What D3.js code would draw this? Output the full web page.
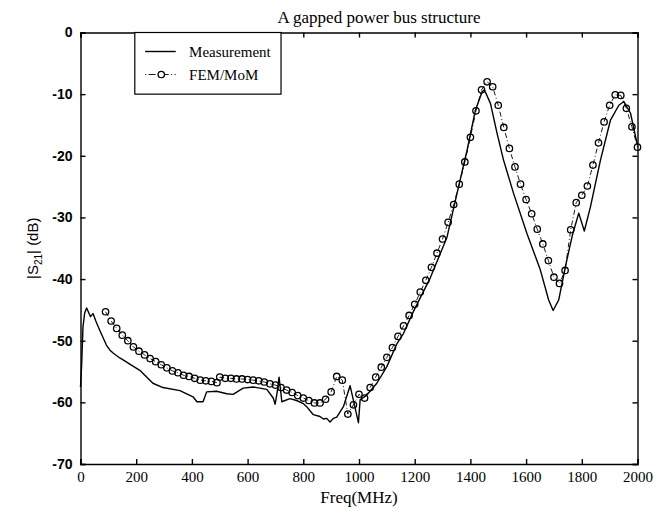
<!DOCTYPE html>
<html>
<head>
<meta charset="utf-8">
<script src="https://cdn.jsdelivr.net/npm/d3@7"></script>
<style>
  body { margin: 0; background: #fff; }
  svg { display: block; }
  .axis path, .axis line { stroke: #000; stroke-width: 1.4; }
  .axis--x text { font: 15px "Liberation Serif", serif; fill: #000; }
  .axis--y text { font: bold 14px "Liberation Sans Narrow", "Liberation Sans", sans-serif; fill: #000; }
</style>
</head>
<body>
<svg width="661" height="515"></svg>
<script>
// measured |S21| (solid line)
var measFreq = [0, 4, 9, 15, 22, 30, 36, 45, 55, 69, 93, 105, 117, 141, 153, 177, 213, 240, 260, 296,
  357, 404, 418, 440, 453, 489, 525, 548, 584, 620, 669, 692, 699, 706, 713, 723, 752, 776, 800, 812,
  836, 860, 872, 884, 896, 908, 920, 944, 968, 998, 1004, 1028, 1064, 1100, 1136, 1160, 1196, 1256, 1316, 1352,
  1388, 1418, 1442, 1450, 1472, 1496, 1519, 1555, 1603, 1651, 1681, 1697, 1717, 1741, 1765, 1789, 1809, 1831, 1867, 1903,
  1933, 1951, 1975, 1993, 2000];
var measDb = [-57.5, -54, -47.7, -45.5, -44.7, -45.5, -46.1, -45.6, -46.8, -48.3, -50.7, -51.5, -52.0, -52.8, -53.1, -53.8, -54.8, -56.0, -56.9, -57.6,
  -58.1, -59.1, -59.9, -59.9, -58.3, -58.2, -58.6, -58.7, -57.7, -57.5, -57.9, -59.3, -60.3, -58.4, -55.9, -59.9, -59.4, -59.7, -60.2, -60.7,
  -62.0, -62.3, -62.7, -62.6, -63.2, -62.6, -62.4, -60.7, -57.3, -63.3, -59.6, -58.8, -56.9, -54.2, -50.5, -48.8, -45.2, -39.8, -33.2, -26.1,
  -19.1, -12.6, -9.6, -9.3, -11.5, -16.4, -20.7, -26.1, -32.6, -38.5, -43.4, -45.1, -43.4, -38.0, -33.1, -29.3, -32.2, -28.3, -20.7, -14.2,
  -11.8, -11.2, -13.1, -16.9, -18.3];

// FEM/MoM simulation (circles)
var femFreq = [90, 110, 130, 150, 170, 190, 210, 230, 250, 270, 290, 310, 330, 350, 370, 390, 410, 430, 450, 470, 490,
  500, 520, 540, 560, 580, 600, 620, 640, 660, 680, 700, 720, 740, 760, 780, 800, 820, 840, 860, 880,
  900, 920, 940, 960, 980, 1000, 1020, 1040, 1060, 1080, 1100, 1120, 1140, 1160, 1180, 1200, 1220, 1240, 1260, 1280,
  1300, 1320, 1340, 1360, 1380, 1400, 1420, 1440, 1460, 1480, 1500, 1520, 1540, 1560, 1580, 1600, 1620, 1640, 1660, 1680,
  1700, 1720, 1740, 1760, 1780, 1800, 1820, 1840, 1860, 1880, 1900, 1920, 1940, 1960, 1980, 2000];
var femDb = [-45.3, -46.8, -48.0, -49.1, -50.0, -51.0, -51.7, -52.3, -52.9, -53.4, -53.9, -54.4, -54.9, -55.2, -55.6, -55.8, -56.1, -56.4, -56.5, -56.6, -56.8,
  -55.9, -56.1, -56.1, -56.2, -56.2, -56.3, -56.4, -56.5, -56.7, -57.0, -57.2, -57.6, -58.0, -58.4, -58.9, -59.3, -59.7, -60.1, -60.1, -59.5,
  -58.3, -55.8, -56.4, -61.9, -60.4, -58.7, -59.3, -57.6, -55.9, -54.3, -52.7, -51.1, -49.3, -47.6, -45.9, -44.1, -42.1, -40.2, -38.1, -35.8,
  -33.5, -30.8, -27.9, -24.6, -21.0, -17.0, -12.7, -9.3, -8.0, -8.8, -11.8, -15.4, -18.8, -21.8, -24.6, -27.1, -29.4, -31.9, -34.3, -37.0,
  -39.7, -40.7, -38.6, -32.0, -27.6, -26.4, -24.9, -21.5, -17.9, -14.5, -11.8, -10.1, -10.2, -12.3, -15.3, -18.6];

var xTicks = [0, 200, 400, 600, 800, 1000, 1200, 1400, 1600, 1800, 2000];
var yTicks = [0, -10, -20, -30, -40, -50, -60, -70];

var svg = d3.select("svg"),
    margin = {top: 32.5, right: 23.5, bottom: 51, left: 80.5},
    width = +svg.attr("width") - margin.left - margin.right,
    height = +svg.attr("height") - margin.top - margin.bottom;

var x = d3.scaleLinear().domain([0, 2000]).range([0, width]);
var y = d3.scaleLinear().domain([-70, 0]).range([height, 0]);

var meas = measFreq.map(function(f, i) { return {f: f, v: measDb[i]}; });
var fem = femFreq.map(function(f, i) { return {f: f, v: femDb[i]}; });

var line = d3.line()
  .x(function(d) { return x(d.f); })
  .y(function(d) { return y(d.v); });

var g = svg.append("g")
  .attr("transform", "translate(" + margin.left + "," + margin.top + ")");

g.append("path")
  .datum(fem)
  .attr("fill", "none")
  .attr("stroke", "#000")
  .attr("stroke-width", 0.9)
  .attr("stroke-dasharray", "5,2.5,1,2.5")
  .attr("d", line);

g.selectAll(".pt")
  .data(fem)
  .enter().append("circle")
    .attr("class", "pt")
    .attr("cx", function(d) { return x(d.f); })
    .attr("cy", function(d) { return y(d.v); })
    .attr("r", 3.2)
    .attr("fill", "none")
    .attr("stroke", "#000")
    .attr("stroke-width", 1.3);

g.append("path")
  .datum(meas)
  .attr("fill", "none")
  .attr("stroke", "#000")
  .attr("stroke-width", 1.4)
  .attr("stroke-linejoin", "round")
  .attr("d", line);

// plain hyphen for negatives, like the original
var plain = function(d) { return String(d); };

// axes, ticks pointing inward on all four sides
g.append("g")
  .attr("class", "axis axis--x")
  .attr("transform", "translate(0," + height + ")")
  .call(d3.axisBottom(x).tickValues(xTicks).tickSize(-5).tickPadding(7).tickFormat(plain));

g.append("g")
  .attr("class", "axis axis--x")
  .call(d3.axisTop(x).tickValues(xTicks).tickSize(-5).tickFormat(""));

g.append("g")
  .attr("class", "axis axis--y")
  .call(d3.axisLeft(y).tickValues(yTicks).tickSize(-5).tickPadding(8).tickFormat(plain));

g.append("g")
  .attr("class", "axis axis--y")
  .attr("transform", "translate(" + width + ",0)")
  .call(d3.axisRight(y).tickValues(yTicks).tickSize(-5).tickFormat(""));

g.selectAll(".axis .domain").attr("stroke-width", 1.6);

// legend
var lg = g.append("g");
lg.append("rect")
  .attr("x", x(195)).attr("y", 0)
  .attr("width", x(720) - x(195)).attr("height", y(-10))
  .attr("fill", "#fff").attr("stroke", "#000").attr("stroke-width", 1.2);
lg.append("line")
  .attr("x1", x(232)).attr("x2", x(342)).attr("y1", 19).attr("y2", 19)
  .attr("stroke", "#000").attr("stroke-width", 1.4);
lg.append("line")
  .attr("x1", x(232)).attr("x2", x(342)).attr("y1", 42).attr("y2", 42)
  .attr("stroke", "#000").attr("stroke-width", 0.9)
  .attr("stroke-dasharray", "1,2.5,7,2.5");
lg.append("circle")
  .attr("cx", x(290)).attr("cy", 42).attr("r", 3.2)
  .attr("fill", "#fff").attr("stroke", "#000").attr("stroke-width", 1.3);
lg.append("text")
  .attr("x", x(390)).attr("y", 24)
  .style("font", "15px 'Liberation Serif', serif")
  .text("Measurement");
lg.append("text")
  .attr("x", x(390)).attr("y", 47)
  .style("font", "15px 'Liberation Serif', serif")
  .text("FEM/MoM");

// titles
svg.append("text")
  .attr("x", 379).attr("y", 23)
  .attr("text-anchor", "middle")
  .style("font", "17px 'Liberation Serif', serif")
  .text("A gapped power bus structure");

svg.append("text")
  .attr("x", margin.left + width / 2).attr("y", 503)
  .attr("text-anchor", "middle")
  .style("font", "17px 'Liberation Serif', serif")
  .text("Freq(MHz)");

var yl = svg.append("text")
  .attr("transform", "translate(38," + (margin.top + height / 2) + ") rotate(-90)")
  .attr("text-anchor", "middle")
  .style("font", "15px 'Liberation Sans', sans-serif");
yl.append("tspan").text("|S");
yl.append("tspan").attr("dy", 4).style("font-size", "10px").text("21");
yl.append("tspan").attr("dy", -4).text("| (dB)");
</script>
</body>
</html>
